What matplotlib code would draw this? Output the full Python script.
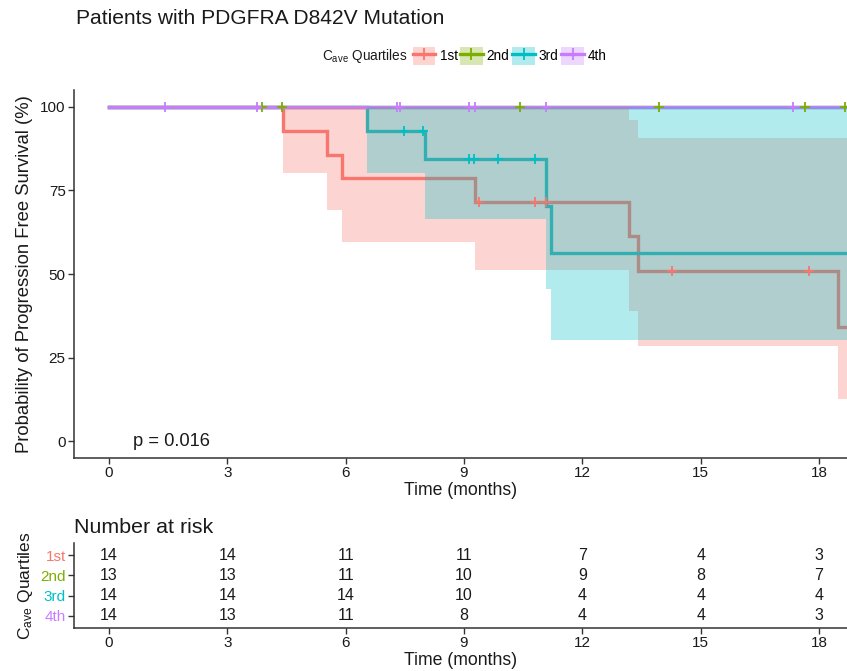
import matplotlib
matplotlib.use("Agg")
import matplotlib.pyplot as plt
from matplotlib.patches import Patch
from matplotlib.lines import Line2D
from matplotlib.legend_handler import HandlerTuple

plt.rcParams['font.family'] = ['Liberation Sans', 'DejaVu Sans']

# Kaplan-Meier estimates per quartile (time in months, survival in %)
groups = ['1st', '2nd', '3rd', '4th']
colors = ['#F8766D', '#7CAE00', '#00BFC4', '#C77CFF']

t_1st = [0, 4.42, 5.53, 5.91, 9.29, 13.18, 13.41, 18.47, 18.75]
s_1st = [100, 92.86, 85.71, 78.57, 71.43, 61.22, 51.02, 34.01, 34.01]
lo_1st = [100, 80.1, 69.0, 59.5, 51.2, 38.9, 28.5, 12.6, 12.6]
hi_1st = [100, 100, 100, 100, 100, 96.0, 90.6, 90.8, 90.8]
cens_1st = [9.38, 10.80, 11.09, 14.28, 17.75]

t_2nd = [0, 18.75]
s_2nd = [100, 100]
lo_2nd = [100, 100]
hi_2nd = [100, 100]
cens_2nd = [3.88, 4.38, 10.41, 13.95, 17.64, 18.65]

t_3rd = [0, 6.53, 8.00, 11.08, 11.20, 18.75]
s_3rd = [100, 92.86, 84.42, 70.35, 56.28, 56.28]
lo_3rd = [100, 80.1, 66.4, 45.5, 30.3, 30.3]
hi_3rd = [100, 100, 100, 100, 100, 100]
cens_3rd = [7.47, 7.95, 9.12, 9.25, 9.86, 10.79]

t_4th = [0, 18.75]
s_4th = [100, 100]
lo_4th = [100, 100]
hi_4th = [100, 100]
cens_4th = [1.42, 3.75, 7.30, 7.39, 9.12, 9.29, 11.09, 17.33]

times = [t_1st, t_2nd, t_3rd, t_4th]
survs = [s_1st, s_2nd, s_3rd, s_4th]
lows = [lo_1st, lo_2nd, lo_3rd, lo_4th]
highs = [hi_1st, hi_2nd, hi_3rd, hi_4th]
censors = [cens_1st, cens_2nd, cens_3rd, cens_4th]

# number at risk table
risk_times = [0, 3, 6, 9, 12, 15, 18]
risk_1st = [14, 14, 11, 11, 7, 4, 3]
risk_2nd = [13, 13, 11, 10, 9, 8, 7]
risk_3rd = [14, 14, 14, 10, 4, 4, 4]
risk_4th = [14, 13, 11, 8, 4, 4, 3]
risk = [risk_1st, risk_2nd, risk_3rd, risk_4th]

W, H = 847, 671
fig = plt.figure(figsize=(W / 100, H / 100), dpi=100)
ax = fig.add_axes([74 / W, 1 - 458 / H, 1 - 74 / W, (458 - 90) / H])
ax2 = fig.add_axes([74 / W, 1 - 628 / H, 1 - 74 / W, (628 - 543) / H])

txt = '#1a1a1a'
axcol = '#333333'


def step_val(t, s, x):
    v = s[0]
    for ti, si in zip(t, s):
        if ti <= x:
            v = si
    return v


# survival curves, confidence bands drawn over them, then censor marks
for t, s, c in zip(times, survs, colors):
    ax.step(t, s, where='post', color=c, lw=2.4, zorder=2, solid_joinstyle='miter')
for t, lo, hi, c in zip(times, lows, highs, colors):
    ax.fill_between(t, lo, hi, step='post', color=c, alpha=0.3, lw=0, zorder=3)
for t, s, cens, c in zip(times, survs, censors, colors):
    ys = [step_val(t, s, x) for x in cens]
    ax.plot(cens, ys, ls='none', marker='+', ms=7, mew=1.3, color=c, zorder=4)

ax.set_xlim(-0.887, 18.71)
ax.set_ylim(-5, 105)
ax.set_xticks(risk_times)
ax.set_yticks([0, 25, 50, 75, 100])
ax.set_xlabel('Time (months)', fontsize=12.7, color=txt, labelpad=1)
ax.set_ylabel('Probability of Progression Free Survival (%)', fontsize=13.3, color=txt, labelpad=5)
ax.text(0.6, 0, 'p = 0.016', fontsize=13.2, color=txt, ha='left', va='center')

for a in (ax, ax2):
    for side in ('top', 'right'):
        a.spines[side].set_visible(False)
    for side in ('left', 'bottom'):
        a.spines[side].set_color(axcol)
        a.spines[side].set_linewidth(1.1)
    a.tick_params(length=4, width=1, color=axcol, labelsize=11, labelcolor=txt, pad=2)

fig.text(76 / W, 1 - 18 / H, 'Patients with PDGFRA D842V Mutation', fontsize=15.1,
         color=txt, ha='left', va='center')

# legend: filled band swatch with line and censor mark
handles = [(Patch(facecolor=c, alpha=0.3, lw=0),
            Line2D([], [], color=c, lw=2.4, marker='+', ms=8, mew=1.3)) for c in colors]
fig.legend(handles, groups, handler_map={tuple: HandlerTuple(ndivide=1)},
           loc='center left', bbox_to_anchor=(413 / W, 1 - 56 / H), ncol=4,
           frameon=False, fontsize=9.8, handlelength=1.65, handleheight=1.65,
           handletextpad=0.3, columnspacing=0.2, borderpad=0, borderaxespad=0)
fig.text(407 / W, 1 - 56 / H, r'$\mathregular{C_{ave}}$ Quartiles', fontsize=9.8,
         color=txt, ha='right', va='center')

# risk table
rows = [4, 3, 2, 1]
for y, counts in zip(rows, risk):
    for x, n in zip(risk_times, counts):
        ax2.text(x, y, str(n), ha='center', va='center', fontsize=11.5, color=txt)
ax2.set_xlim(-0.887, 18.71)
ax2.set_ylim(0.4, 4.6)
ax2.set_xticks(risk_times)
ax2.set_yticks(rows)
ax2.set_yticklabels(groups)
for lab, c in zip(ax2.get_yticklabels(), colors):
    lab.set_color(c)
ax2.set_xlabel('Time (months)', fontsize=12.7, color=txt, labelpad=1)
ax2.set_ylabel(r'$\mathregular{C_{ave}}$ Quartiles', fontsize=12.5, color=txt, labelpad=4)
ax2.set_title('Number at risk', fontsize=15.4, color=txt, loc='left', pad=7)

fig.savefig('out.png', dpi=100)
